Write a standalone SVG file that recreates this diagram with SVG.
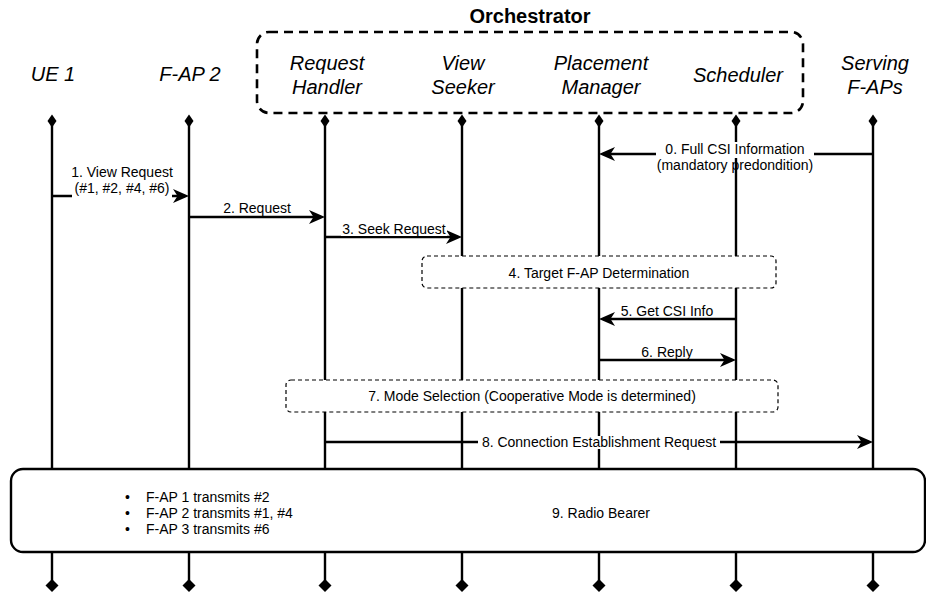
<svg xmlns="http://www.w3.org/2000/svg" width="926" height="593" viewBox="0 0 926 593">
<style>
.hdr{font-family:"Liberation Sans",Arial,sans-serif;font-size:20px;font-style:italic;fill:#000;text-anchor:middle}
.ttl{font-family:"Liberation Sans",Arial,sans-serif;font-size:20px;font-weight:bold;fill:#000;text-anchor:middle}
.lbl{font-family:"Liberation Sans",Arial,sans-serif;font-size:14px;fill:#000;text-anchor:middle}
.lbs{font-family:"Liberation Sans",Arial,sans-serif;font-size:14px;fill:#000}
.life{stroke:#000;stroke-width:2.4;fill:none}
.dia{fill:#000}
.msg{stroke:#000;stroke-width:2.4;fill:none;marker-end:url(#arr)}
.bg{fill:#fff}
.dbox{fill:#fff;stroke:#000;stroke-width:1.2;stroke-dasharray:4 3}
</style>
<defs>
<marker id="arr" markerUnits="userSpaceOnUse" viewBox="0 0 16 14" refX="12" refY="7" markerWidth="16" markerHeight="14" orient="auto">
<path d="M0,0 L16,7 L0,14 L4.5,7 Z" fill="#000"/>
</marker>
</defs>
<rect width="926" height="593" fill="#fff"/>

<g id="lifelines">
<path class="life" d="M52,124 V582 M189,124 V582 M325,124 V582 M462,124 V582 M599,124 V582 M736,124 V582 M873,124 V582"/>
</g>

<g id="orchestrator">
<rect x="257" y="32" width="546" height="81" rx="12" fill="none" stroke="#000" stroke-width="2.6" stroke-dasharray="9 6"/>
<text class="ttl" x="530" y="23">Orchestrator</text>
</g>

<g id="ue1">
<text class="hdr" x="53" y="81">UE 1</text>
<path class="dia" d="M52,114.5 L56.5,121 L52,127.5 L47.5,121 Z"/>
<path class="dia" d="M52,579 L58.5,585.5 L52,592 L45.5,585.5 Z"/>
</g>
<g id="fap2">
<text class="hdr" x="190" y="81">F-AP 2</text>
<path class="dia" d="M189,114.5 L193.5,121 L189,127.5 L184.5,121 Z"/>
<path class="dia" d="M189,579 L195.5,585.5 L189,592 L182.5,585.5 Z"/>
</g>
<g id="request-handler">
<text class="hdr" x="327" y="70">Request</text>
<text class="hdr" x="327" y="94">Handler</text>
<path class="dia" d="M325,114.5 L329.5,121 L325,127.5 L320.5,121 Z"/>
<path class="dia" d="M325,579 L331.5,585.5 L325,592 L318.5,585.5 Z"/>
</g>
<g id="view-seeker">
<text class="hdr" x="463" y="70">View</text>
<text class="hdr" x="463" y="94">Seeker</text>
<path class="dia" d="M462,114.5 L466.5,121 L462,127.5 L457.5,121 Z"/>
<path class="dia" d="M462,579 L468.5,585.5 L462,592 L455.5,585.5 Z"/>
</g>
<g id="placement-manager">
<text class="hdr" x="601" y="70">Placement</text>
<text class="hdr" x="601" y="94">Manager</text>
<path class="dia" d="M599,114.5 L603.5,121 L599,127.5 L594.5,121 Z"/>
<path class="dia" d="M599,579 L605.5,585.5 L599,592 L592.5,585.5 Z"/>
</g>
<g id="scheduler">
<text class="hdr" x="738" y="82">Scheduler</text>
<path class="dia" d="M736,114.5 L740.5,121 L736,127.5 L731.5,121 Z"/>
<path class="dia" d="M736,579 L742.5,585.5 L736,592 L729.5,585.5 Z"/>
</g>
<g id="serving-faps">
<text class="hdr" x="875" y="70">Serving</text>
<text class="hdr" x="875" y="94">F-APs</text>
<path class="dia" d="M873,114.5 L877.5,121 L873,127.5 L868.5,121 Z"/>
<path class="dia" d="M873,579 L879.5,585.5 L873,592 L866.5,585.5 Z"/>
</g>

<g id="connectors">
<path class="msg" d="M873,154 H603"/>
<path class="msg" d="M52,196 H185"/>
<path class="msg" d="M189,217 H321"/>
<path class="msg" d="M325,237 H458"/>
<path class="msg" d="M736,319 H603"/>
<path class="msg" d="M599,360 H732"/>
<path class="msg" d="M325,442 H869"/>
</g>

<g id="labels">
<rect class="bg" x="656" y="142" width="158" height="16"/>
<text class="lbl" x="735" y="154">0. Full CSI Information</text>
<text class="lbl" x="735" y="170">(mandatory predondition)</text>
<rect class="bg" x="72" y="163" width="100" height="35"/>
<text class="lbl" x="122" y="176.5">1. View Request</text>
<text class="lbl" x="122" y="193">(#1, #2, #4, #6)</text>
<rect class="bg" x="223" y="201" width="69" height="14"/>
<text class="lbl" x="257" y="213">2. Request</text>
<rect class="bg" x="341" y="222" width="106" height="14"/>
<text class="lbl" x="394" y="234">3. Seek Request</text>
<rect class="bg" x="619" y="303" width="96" height="14"/>
<text class="lbl" x="667" y="316">5. Get CSI Info</text>
<rect class="bg" x="640" y="344" width="54" height="14"/>
<text class="lbl" x="667" y="357">6. Reply</text>
<rect class="bg" x="478" y="436" width="242" height="13"/>
<text class="lbl" x="599" y="447">8. Connection Establishment Request</text>
</g>

<g id="target-fap-determination">
<rect class="dbox" x="422" y="256" width="354" height="32" rx="5"/>
<text class="lbl" x="599" y="278">4. Target F-AP Determination</text>
</g>

<g id="mode-selection">
<rect class="dbox" x="286" y="380" width="492" height="32" rx="5"/>
<text class="lbl" x="532" y="401">7. Mode Selection (Cooperative Mode is determined)</text>
</g>

<g id="radio-bearer">
<rect x="11" y="469" width="914" height="83" rx="12" fill="#fff" stroke="#000" stroke-width="2.4"/>
<text class="lbl" x="601" y="518">9. Radio Bearer</text>
<text class="lbs" x="125" y="502">•</text>
<text class="lbs" x="146" y="502">F-AP 1 transmits #2</text>
<text class="lbs" x="125" y="518">•</text>
<text class="lbs" x="146" y="518">F-AP 2 transmits #1, #4</text>
<text class="lbs" x="125" y="534">•</text>
<text class="lbs" x="146" y="534">F-AP 3 transmits #6</text>
</g>
</svg>
